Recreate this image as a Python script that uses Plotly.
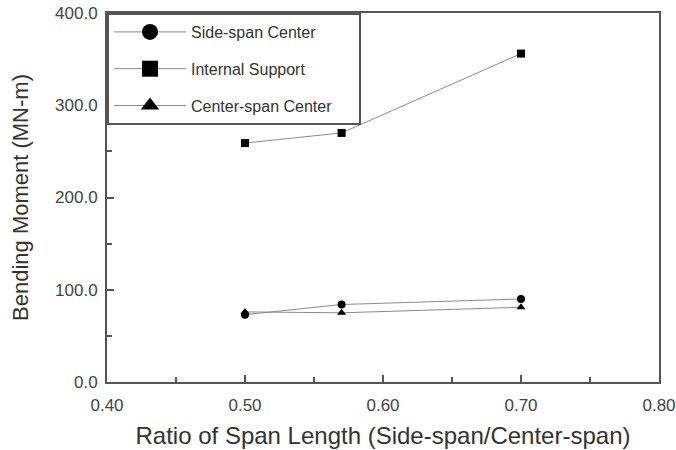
import plotly.graph_objects as go

ratio = [0.50, 0.57, 0.70]
side_span_center = [73, 84, 90]
internal_support = [259, 270, 356]
center_span_center = [76, 75, 81]

series = [
    ("Side-span Center", side_span_center, "circle"),
    ("Internal Support", internal_support, "square"),
    ("Center-span Center\u00a0\u00a0\u00a0\u00a0\u00a0", center_span_center, "triangle-up"),
]

FONT = "Liberation Sans, Arial"

fig = go.Figure()
for i, (name, vals, sym) in enumerate(series):
    fig.add_trace(go.Scatter(
        x=ratio, y=vals, mode="lines+markers", name=name.strip(), showlegend=False,
        line=dict(color="#8a8a8a", width=1),
        marker=dict(symbol=sym, size=8, color="black"),
    ))
for i, (name, vals, sym) in enumerate(series):
    fig.add_trace(go.Scatter(
        x=[None], y=[None], mode="lines+markers", name=name, legendgroup=f"g{i}",
        line=dict(color="#8a8a8a", width=1),
        marker=dict(symbol=sym, size=20, color="black"),
    ))

axis_common = dict(
    showline=True, linecolor="#555555", linewidth=2, mirror=True,
    ticks="inside", ticklen=7, tickcolor="#555555", tickwidth=1.5,
    showgrid=False, zeroline=False, automargin=False,
    tickfont=dict(family=FONT, size=17, color="#444444"),
)

fig.update_xaxes(
    range=[0.40, 0.80], dtick=0.1, tickformat=".2f", ticklabelstandoff=7,
    minor=dict(ticks="inside", ticklen=5, dtick=0.05, tickcolor="#555555"),
    title=dict(text="Ratio of Span Length (Side-span/Center-span)",
               font=dict(family=FONT, size=24, color="#333333"), standoff=13),
    **axis_common,
)
fig.update_yaxes(
    range=[0, 400], dtick=100, tickformat=".1f", ticklabelstandoff=4,
    minor=dict(ticks="inside", ticklen=5, dtick=50, tickcolor="#555555"),
    title=dict(text="Bending Moment (MN-m)",
               font=dict(family=FONT, size=22, color="#333333"), standoff=20),
    **axis_common,
)

fig.update_layout(
    width=676, height=450,
    margin=dict(l=107, r=17, t=13, b=68),
    paper_bgcolor="white", plot_bgcolor="white",
    legend=dict(
        x=0, y=1, xanchor="left", yanchor="top",
        bordercolor="#555555", borderwidth=2, bgcolor="white",
        font=dict(family=FONT, size=16, color="#333333"),
        tracegroupgap=13, itemwidth=72,
    ),
)

fig.write_html("out.html")
